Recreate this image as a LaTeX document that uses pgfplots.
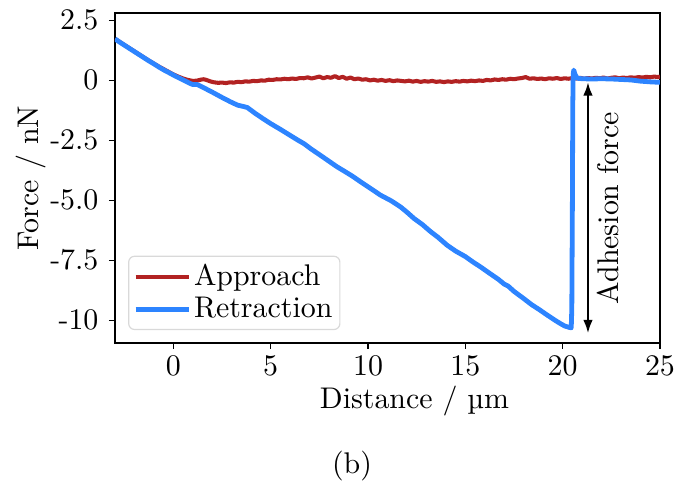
\documentclass[border=0pt]{standalone}
\usepackage{fontspec}
\usepackage{pgfplots}
\pgfplotsset{compat=1.18}
\usetikzlibrary{arrows.meta}

\definecolor{approachred}{RGB}{178,34,34}
\definecolor{retractblue}{RGB}{45,132,255}

% Force-distance curve: approach and retraction
\pgfplotstableread{
x y
-3.00 1.72
-2.75 1.59
-2.50 1.46
-2.25 1.33
-2.00 1.20
-1.75 1.07
-1.50 0.94
-1.25 0.81
-1.00 0.69
-0.75 0.57
-0.50 0.46
-0.25 0.35
0.00 0.24
0.25 0.15
0.50 0.07
0.75 0.01
1.00 -0.03
1.20 -0.02
1.40 0.02
1.55 0.04
1.70 0.01
1.90 -0.05
2.10 -0.09
2.30 -0.11
2.50 -0.10
2.70 -0.12
2.90 -0.09
3.10 -0.10
3.30 -0.07
3.50 -0.08
3.70 -0.05
3.90 -0.06
4.10 -0.03
4.30 -0.04
4.50 -0.01
4.70 -0.02
4.90 0.02
5.10 0.01
5.30 0.04
5.50 0.03
5.70 0.06
5.90 0.04
6.10 0.07
6.30 0.05
6.50 0.09
6.70 0.08
6.90 0.12
7.10 0.07
7.30 0.11
7.50 0.15
7.70 0.08
7.90 0.13
8.10 0.10
8.30 0.17
8.50 0.09
8.70 0.14
8.90 0.06
9.10 0.11
9.30 0.04
9.50 0.07
9.70 0.02
9.90 0.04
10.10 -0.01
10.30 0.02
10.50 -0.02
10.70 0.01
10.90 -0.03
11.10 0.00
11.30 -0.04
11.50 -0.01
11.70 -0.03
11.90 -0.05
12.10 -0.02
12.30 -0.06
12.50 -0.03
12.70 -0.07
12.90 -0.04
13.10 -0.06
13.30 -0.03
13.50 -0.07
13.70 -0.05
13.90 -0.08
14.10 -0.05
14.30 -0.07
14.50 -0.04
14.70 -0.06
14.90 -0.03
15.10 -0.05
15.30 -0.02
15.50 -0.04
15.70 -0.01
15.90 -0.03
16.10 0.01
16.30 -0.01
16.50 0.03
16.70 0.01
16.90 0.04
17.10 0.02
17.30 0.06
17.50 0.04
17.70 0.07
17.90 0.09
18.10 0.13
18.30 0.06
18.50 0.08
18.70 0.05
18.90 0.07
19.10 0.04
19.30 0.08
19.50 0.06
19.70 0.09
19.90 0.05
20.10 0.08
20.30 0.06
20.50 0.09
20.70 0.07
20.90 0.10
21.10 0.06
21.30 0.09
21.50 0.07
21.70 0.10
21.90 0.08
22.10 0.11
22.30 0.07
22.50 0.10
22.70 0.12
22.90 0.08
23.10 0.11
23.30 0.09
23.50 0.12
23.70 0.10
23.90 0.13
24.10 0.11
24.30 0.14
24.50 0.12
24.70 0.15
24.90 0.13
25.00 0.15
}\approach

\pgfplotstableread{
x y
-3.00 1.72
-2.75 1.58
-2.50 1.45
-2.25 1.32
-2.00 1.19
-1.75 1.06
-1.50 0.93
-1.25 0.80
-1.00 0.68
-0.75 0.55
-0.50 0.43
-0.15 0.28
0.10 0.17
0.40 0.05
0.65 -0.05
0.87 -0.14
1.00 -0.18
1.22 -0.18
1.50 -0.29
2.00 -0.50
2.50 -0.72
2.93 -0.90
3.30 -1.04
3.62 -1.10
3.80 -1.14
4.20 -1.38
4.60 -1.60
5.00 -1.81
5.50 -2.05
6.00 -2.30
6.40 -2.50
6.70 -2.64
7.10 -2.88
7.50 -3.10
8.00 -3.38
8.41 -3.61
8.80 -3.80
9.20 -4.00
9.70 -4.28
10.13 -4.51
10.64 -4.79
11.20 -5.03
11.67 -5.28
12.00 -5.50
12.36 -5.76
12.80 -6.02
13.20 -6.30
13.60 -6.55
14.07 -6.88
14.50 -7.12
15.00 -7.35
15.40 -7.58
15.78 -7.78
16.20 -8.02
16.70 -8.30
17.00 -8.50
17.20 -8.58
17.50 -8.80
18.00 -9.10
18.40 -9.35
18.80 -9.56
19.21 -9.79
19.60 -10.00
19.90 -10.15
20.10 -10.24
20.33 -10.30
20.44 -10.32
20.47 -9.50
20.50 -5.00
20.52 -1.00
20.54 0.25
20.57 0.42
20.63 0.25
20.75 0.08
21.00 0.06
21.50 0.05
22.00 0.06
22.50 0.05
23.00 0.03
23.50 0.01
24.00 -0.04
24.50 -0.07
25.00 -0.09
}\retraction

\begin{document}
\begin{tikzpicture}[font=\fontsize{10}{12}\selectfont]
\path[use as bounding box] (-38.33bp,-46.67bp) rectangle (187.67bp,114.33bp);
\begin{axis}[
  at={(0,0)}, anchor=south west,
  scale only axis, width=181.67bp, height=110bp,
  xmin=-3, xmax=25, ymin=-10.95, ymax=2.8,
  xtick={0,5,10,15,20,25},
  ytick={-10,-7.5,-5,-2.5,0,2.5},
  yticklabels={-10,-7.5,-5.0,-2.5,0,2.5},
  xtick pos=bottom, ytick pos=left,
  tick align=outside, major tick length=2bp,
  tick style={black, line width=0.4bp},
  axis line style={black, line width=0.5bp},
  xticklabel style={yshift=1bp},
  xlabel={Distance / µm},
  ylabel={Force / nN},
  xlabel style={xshift=9bp, yshift=3.5bp},
  ylabel style={yshift=-5.3bp},
  legend cell align=left,
  legend style={
    at={(0.024,0.039)}, anchor=south west,
    draw=black!15, rounded corners=2bp, fill=white, fill opacity=0.8, text opacity=1,
    inner xsep=1.5bp, inner ysep=1.5bp, row sep=0.5bp,
    nodes={inner sep=1bp},
  },
  legend image code/.code={\draw[#1] (0bp,0bp) -- (17.7bp,0bp);},
]
\addplot[approachred, line width=1.35bp, line join=round] table[x=x, y=y] {\approach};
\addlegendentry{Approach}
\addplot[retractblue, line width=1.6bp, line join=round] table[x=x, y=y] {\retraction};
\addlegendentry{Retraction}
\draw[{Latex[length=4.5bp,width=3.2bp]}-{Latex[length=4.5bp,width=3.2bp]}, black, line width=0.8bp]
  (axis cs:21.3,-0.08) -- (axis cs:21.3,-10.55);
\node[rotate=90] at (axis cs:22.33,-5.33) {Adhesion force};
\end{axis}
\node at (79bp,-41bp) {(b)};
\end{tikzpicture}
\end{document}
